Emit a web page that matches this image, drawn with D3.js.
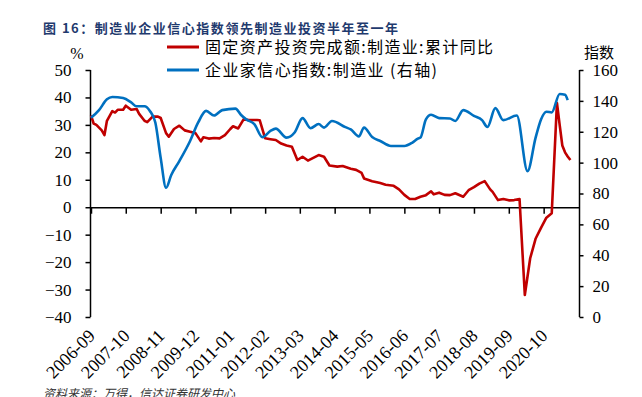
<!DOCTYPE html>
<html>
<head>
<meta charset="utf-8">
<script src="https://cdn.jsdelivr.net/npm/d3@7"></script>
<style>
  body { margin: 0; background: #fff; }
  svg { display: block; }
</style>
</head>
<body>
<div id="chart"></div>
<script>
// 固定资产投资完成额:制造业:累计同比 (左轴, %)
var investDates = ["2006-09","2006-10","2006-11","2007-01","2007-02","2007-03","2007-05","2007-06","2007-07","2007-09",
    "2007-10","2007-12","2008-02","2008-03","2008-05","2008-06","2008-08","2008-10","2008-11","2009-01",
    "2009-02","2009-04","2009-06","2009-08","2009-10","2009-12","2010-02","2010-03","2010-05","2010-07",
    "2010-09","2010-11","2011-01","2011-02","2011-04","2011-06","2011-08","2011-11","2011-12","2012-02",
    "2012-04","2012-06","2012-08","2012-10","2012-12","2013-02","2013-04","2013-06","2013-08","2013-10",
    "2013-12","2014-02","2014-05","2014-07","2014-10","2014-12","2015-02","2015-03","2015-06","2015-09",
    "2015-11","2016-02","2016-04","2016-06","2016-08","2016-10","2016-12","2017-02","2017-04","2017-05",
    "2017-07","2017-09","2017-11","2018-01","2018-04","2018-06","2018-08","2018-10","2018-12","2019-02",
    "2019-03","2019-05","2019-07","2019-09","2019-11","2020-01","2020-03","2020-05","2020-07","2020-09",
    "2020-11","2021-01","2021-03","2021-04","2021-05","2021-06","2021-07","2021-08"];
var investValues = [33.5,30.5,30,28,26.3,31.5,35,34.5,35.5,35.5,
    37,35.5,35.8,34,31.5,31,33,33,32.5,27,
    25.7,28.5,29.7,28,27.5,27,24,25.5,25,25.2,
    25.1,26.3,28.5,29.5,28.7,32,31.8,31.8,31.7,25.1,
    24.8,24.5,23.2,22.5,22,17.2,18.4,17,18,19,
    18.4,15.2,14.8,15,14,13.6,12.5,10.5,9.5,8.8,
    8.2,7.8,6.5,4.5,3,3,3.8,4.4,5.8,4.7,
    5.3,4.5,4.4,5.1,3.8,6.2,7.3,8.6,9.5,6.5,
    5.6,2.6,3.0,2.5,2.6,3.0,-32,-18.6,-11.5,-7.5,
    -3.8,-2.2,38,30,22.5,20,18.5,17.2];

// 企业家信心指数:制造业 (右轴)
var confDates = ["2006-09","2006-12","2007-03","2007-05","2007-09","2007-12","2008-02","2008-05","2008-07","2008-09",
    "2008-11","2009-01","2009-03","2009-06","2009-10","2010-01","2010-04","2010-07","2010-10","2011-03",
    "2011-05","2011-07","2011-10","2012-01","2012-04","2012-06","2012-10","2013-01","2013-04","2013-07",
    "2013-10","2013-12","2014-03","2014-08","2014-10","2015-01","2015-03","2015-06","2015-09","2016-01",
    "2016-06","2016-09","2016-11","2016-12","2017-02","2017-04","2017-07","2017-11","2018-01","2018-04",
    "2018-08","2018-11","2019-01","2019-04","2019-07","2019-12","2020-04","2020-07","2020-09","2020-11",
    "2021-01","2021-04","2021-06","2021-07"];
var confValues = [129,134,141,142.5,141.8,139,136.5,136.5,133.5,126,
    103,83.7,92,101,114,126,133.5,130.5,134,135,
    131,128,125,116.5,120.5,122,116.2,119.5,128.8,122.3,
    125,122.7,127,123,121.5,117,122.7,116.6,114,110.8,
    110.8,113,115.5,116.2,128,131,128.8,128.6,127,134,
    130.3,127.5,123.1,135.3,127.5,130.5,94.5,116,128,133,
    132.5,144.5,144,140.5];

var tickLabels = ["2006-09","2007-10","2008-11","2009-12","2011-01","2012-02","2013-03",
    "2014-04","2015-05","2016-06","2017-07","2018-08","2019-09","2020-10"];
var leftTicks = [50,40,30,20,10,0,-10,-20,-30,-40];
var rightTicks = [160,140,120,100,80,60,40,20,0];

var parseMonth = d3.timeParse("%Y-%m");
var investData = investDates.map((d, i) => ({date: parseMonth(d), value: investValues[i]}));
var confData = confDates.map((d, i) => ({date: parseMonth(d), value: confValues[i]}));

var W = 642, H = 397;
var red = "#c00000", blue = "#0070c0";
var serif = "'Liberation Serif', 'Times New Roman', serif";
var cjk = "'Noto Sans CJK SC', sans-serif";

var svg = d3.select("#chart")
    .append("svg")
    .attr("width", W)
    .attr("height", H);

svg.append("rect").attr("width", W).attr("height", H).attr("fill", "#fff");

var xScale = d3.scaleTime()
    .domain([parseMonth("2006-09"), parseMonth("2021-11")])
    .range([91, 578.5]);

var yLeft = d3.scaleLinear().domain([-40, 50]).range([317, 70]);
var yRight = d3.scaleLinear().domain([0, 160]).range([317, 70]);

// title
svg.append("text")
    .attr("x", 43)
    .attr("y", 33)
    .attr("textLength", 355)
    .attr("lengthAdjust", "spacing")
    .style("font-family", cjk)
    .style("font-weight", "bold")
    .style("font-size", "13px")
    .style("fill", "#1f3a6e")
    .text("图 16：制造业企业信心指数领先制造业投资半年至一年");

// left axis
var leftAxis = svg.append("g")
    .attr("transform", "translate(90.5,0)")
    .call(d3.axisLeft(yLeft).tickValues(leftTicks).tickSize(5).tickPadding(14).tickFormat(d3.format("d")));
leftAxis.select(".domain").attr("d", "M0," + yLeft(50) + "V" + yLeft(-40));

// right axis
var rightAxis = svg.append("g")
    .attr("transform", "translate(579.5,0)")
    .call(d3.axisRight(yRight).tickValues(rightTicks).tickSize(4).tickPadding(9));
rightAxis.select(".domain").attr("d", "M0," + yRight(160) + "V" + yRight(0));

[leftAxis, rightAxis].forEach(function(ax) {
    ax.selectAll(".domain, line").attr("stroke", "#000").attr("stroke-width", 1.5);
    ax.selectAll("text")
        .style("font-family", serif)
        .style("font-size", "17px")
        .style("fill", "#000");
});

// zero line with category ticks
var tickDates = tickLabels.map(parseMonth);
var zeroAxis = svg.append("g")
    .attr("transform", "translate(0," + (yLeft(0) + 0.5) + ")")
    .call(d3.axisBottom(xScale).tickValues(tickDates).tickSize(6).tickFormat(""));
zeroAxis.select(".domain").attr("d", "M90.5,0H579.5");
zeroAxis.selectAll(".domain, line").attr("stroke", "#000").attr("stroke-width", 1.5);

// rotated date labels at the bottom
svg.append("g")
    .selectAll("text")
    .data(tickLabels)
    .enter().append("text")
    .attr("transform", function(d) {
        return "translate(" + (xScale(parseMonth(d)) + 5) + ",337) rotate(-45)";
    })
    .style("text-anchor", "end")
    .style("font-family", serif)
    .style("font-size", "18px")
    .text(function(d) { return d });

// axis units
svg.append("text")
    .attr("x", 77).attr("y", 59)
    .style("text-anchor", "middle")
    .style("font-family", serif)
    .style("font-size", "16px")
    .text("%");

svg.append("text")
    .attr("x", 599).attr("y", 58)
    .style("text-anchor", "middle")
    .style("font-family", cjk)
    .style("font-size", "15px")
    .text("指数");

// series
var investLine = d3.line()
    .x(d => xScale(d.date))
    .y(d => yLeft(d.value));

var confLine = d3.line()
    .x(d => xScale(d.date))
    .y(d => yRight(d.value))
    .curve(d3.curveMonotoneX);

svg.append("path")
    .datum(investData)
    .attr("fill", "none")
    .attr("stroke", red)
    .attr("stroke-width", 2.6)
    .attr("stroke-linejoin", "round")
    .attr("d", investLine);

svg.append("path")
    .datum(confData)
    .attr("fill", "none")
    .attr("stroke", blue)
    .attr("stroke-width", 2.6)
    .attr("stroke-linejoin", "round")
    .attr("d", confLine);

// legend
var legendItems = [
    {label: "固定资产投资完成额:制造业:累计同比", color: red, len: 288},
    {label: "企业家信心指数:制造业 (右轴)", color: blue, len: 232}
];
var legend = svg.selectAll(".legend")
    .data(legendItems)
    .enter().append("g")
    .attr("class", "legend")
    .attr("transform", function(d, i) { return "translate(167," + (47 + i * 23) + ")" });

legend.append("line")
    .attr("x1", 0).attr("x2", 32)
    .attr("stroke", d => d.color)
    .attr("stroke-width", 3);

legend.append("text")
    .attr("x", 38)
    .attr("y", 6)
    .attr("textLength", d => d.len)
    .attr("lengthAdjust", "spacing")
    .style("font-family", cjk)
    .style("font-size", "16px")
    .text(d => d.label);

// source (cut by the bottom edge, as in the original)
svg.append("text")
    .attr("x", 43)
    .attr("y", 398)
    .style("font-family", cjk)
    .style("font-size", "12px")
    .style("font-style", "italic")
    .style("fill", "#333")
    .text("资料来源：万得，信达证券研发中心");
</script>
</body>
</html>
